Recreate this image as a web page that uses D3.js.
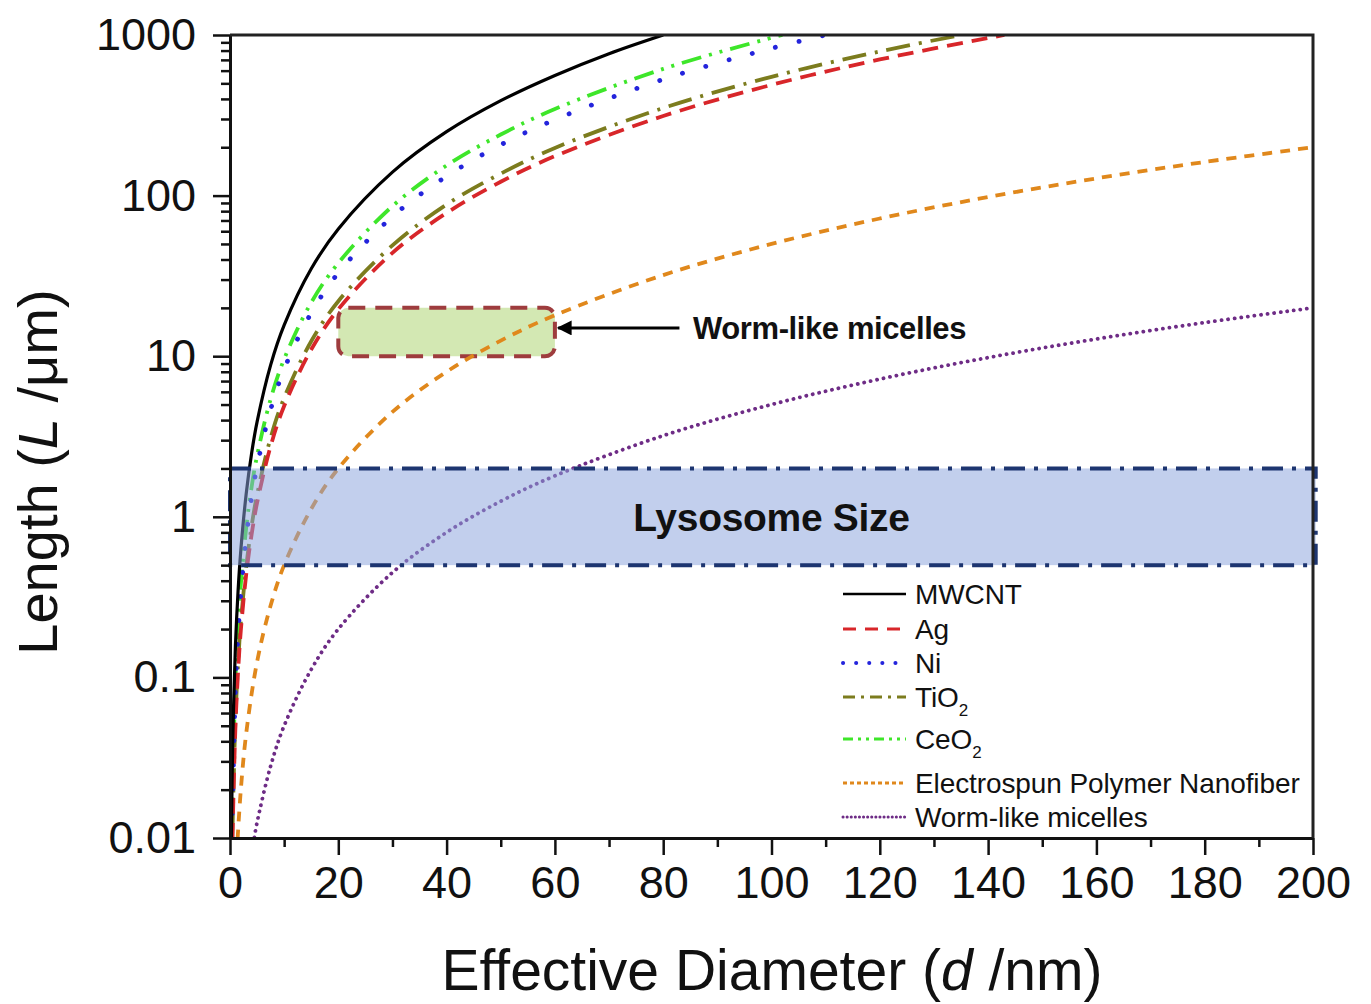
<!DOCTYPE html>
<html>
<head>
<meta charset="utf-8">
<script src="https://cdn.jsdelivr.net/npm/d3@7"></script>
<style>
  body { margin: 0; background: #fff; }
  text { font-family: "Liberation Sans", Arial, sans-serif; fill: #111; }
</style>
</head>
<body>
<div id="chart"></div>
<script>
// values: d in nm, L in um
const mwcntD = [0.25, 0.5, 1, 1.5, 2, 3, 4, 5, 7.5, 10, 15, 20, 30, 40, 50, 60, 70, 80];
const mwcntL = [0.0098, 0.039, 0.156, 0.35, 0.62, 1.4, 2.5, 3.9, 8.8, 15.6, 35, 62, 140, 250, 390, 560, 765, 1000];

const agD = [0.45, 1, 1.5, 2, 3, 4, 5, 7.5, 10, 15, 20, 30, 40, 50, 60, 80, 100, 120, 143];
const agL = [0.0099, 0.049, 0.11, 0.196, 0.44, 0.78, 1.22, 2.75, 4.9, 11, 19.6, 44, 78, 122, 176, 313, 489, 704, 1000];

const niD = [0.35, 1, 1.5, 2, 3, 4, 5, 7.5, 10, 15, 20, 30, 40, 50, 60, 80, 100, 110];
const niL = [0.0101, 0.083, 0.186, 0.33, 0.74, 1.32, 2.07, 4.65, 8.3, 18.6, 33, 74, 132, 207, 297, 529, 826, 1000];

const tio2D = [0.43, 1, 1.5, 2, 3, 4, 5, 7.5, 10, 15, 20, 30, 40, 50, 60, 80, 100, 120, 135];
const tio2L = [0.0101, 0.055, 0.124, 0.22, 0.49, 0.88, 1.37, 3.1, 5.5, 12.4, 22, 49, 88, 137, 198, 351, 549, 790, 1000];

const ceo2D = [0.32, 1, 1.5, 2, 3, 4, 5, 7.5, 10, 15, 20, 30, 40, 50, 60, 80, 100, 102];
const ceo2L = [0.0098, 0.096, 0.216, 0.38, 0.86, 1.54, 2.4, 5.4, 9.6, 21.6, 38, 86, 154, 240, 346, 615, 961, 1000];

const fiberD = [1.4, 2, 3, 5, 7.5, 10, 15, 20, 30, 40, 50, 60, 80, 100, 120, 140, 160, 180, 200];
const fiberL = [0.0098, 0.02, 0.045, 0.125, 0.28, 0.5, 1.12, 2, 4.5, 8, 12.5, 18, 32, 50, 72, 98, 128, 162, 200];

const wormD = [4.5, 5, 7.5, 10, 15, 20, 30, 40, 50, 60, 80, 100, 120, 140, 160, 180, 200];
const wormL = [0.0101, 0.0125, 0.028, 0.05, 0.112, 0.2, 0.45, 0.8, 1.25, 1.8, 3.2, 5, 7.2, 9.8, 12.8, 16.2, 20];

const seriesNames = ["MWCNT", "Ag", "Ni", "TiO2", "CeO2", "Electrospun Polymer Nanofiber", "Worm-like micelles"];

// ticks
const xMajor = [0, 20, 40, 60, 80, 100, 120, 140, 160, 180, 200];
const xMinor = [10, 30, 50, 70, 90, 110, 130, 150, 170, 190];
const yMajor = [0.01, 0.1, 1, 10, 100, 1000];
const yLabels = ["0.01", "0.1", "1", "10", "100", "1000"];

// shaded regions
const lysosomeRange = [0.5, 2];      // L
const lysosomeD = [0, 200.5];
const wormBoxD = [20, 60];
const wormBoxL = [10, 20];

const W = 1371, H = 1004;
const mLeft = 230, mRight = 1313, mTop = 35, mBottom = 838;

const x = d3.scaleLinear().domain([0, 200]).range([mLeft, mRight]);
const y = d3.scaleLog().domain([0.01, 1000]).range([mBottom, mTop]);

const yMinor = [];
[0.01, 0.1, 1, 10, 100].forEach(b => { for (let k = 2; k <= 9; k++) yMinor.push(b * k); });

const svg = d3.select("#chart").append("svg")
  .attr("width", W).attr("height", H);

const defs = svg.append("defs");
defs.append("clipPath").attr("id", "plot")
  .append("rect").attr("x", mLeft).attr("y", mTop)
  .attr("width", mRight - mLeft).attr("height", mBottom - mTop);

defs.append("marker")
  .attr("id", "arrow").attr("viewBox", "0 0 10 10")
  .attr("refX", 9).attr("refY", 5)
  .attr("markerWidth", 5).attr("markerHeight", 5)
  .attr("markerUnits", "strokeWidth")
  .attr("orient", "auto")
  .append("path").attr("d", "M0,0 L10,5 L0,10 z").attr("fill", "#000");

//worm-like micelles box goes under the curves
svg.append("rect")
  .attr("x", x(wormBoxD[0])).attr("y", y(wormBoxL[1]))
  .attr("width", x(wormBoxD[1]) - x(wormBoxD[0]))
  .attr("height", y(wormBoxL[0]) - y(wormBoxL[1]))
  .attr("rx", 10).attr("ry", 10)
  .attr("fill", "#d3e8b3")
  .attr("stroke", "#9e3c3e").attr("stroke-width", 4)
  .attr("stroke-dasharray", "17 10");

const styles = [
  { color: "#000000", width: 3.2, dash: null,                 cap: "butt",  legendDash: null },
  { color: "#d8262a", width: 3.8, dash: "16 9",               cap: "butt",  legendDash: "13 9" },
  { color: "#2424dc", width: 4.8, dash: "0.1 24",             cap: "round", legendDash: "0.1 13" },
  { color: "#7c7c1e", width: 3.8, dash: "24 9 3 9",           cap: "butt",  legendDash: "12 6 3 6" },
  { color: "#3ee62a", width: 3.8, dash: "20 8 3 8 3 8",       cap: "butt",  legendDash: "10 5 3 5 3 5" },
  { color: "#e0881c", width: 3.8, dash: "10 8",               cap: "butt",  legendDash: "4 3" },
  { color: "#6e2c86", width: 3.8, dash: "0.1 6.5",            cap: "round", legendDash: "0.1 4" }
];

const seriesD = [mwcntD, agD, niD, tio2D, ceo2D, fiberD, wormD];
const seriesL = [mwcntL, agL, niL, tio2L, ceo2L, fiberL, wormL];

const line = d3.line()
  .x(p => x(p[0]))
  .y(p => y(p[1]))
  .curve(d3.curveCatmullRom.alpha(0.5));

const curves = svg.append("g").attr("clip-path", "url(#plot)");
// draw back to front so black sits on top like the original
for (let i = seriesD.length - 1; i >= 0; i--) {
  const pts = seriesD[i].map((d, j) => [d, seriesL[i][j]]);
  const s = styles[i];
  curves.append("path")
    .attr("d", line(pts))
    .attr("fill", "none")
    .attr("stroke", s.color)
    .attr("stroke-width", s.width)
    .attr("stroke-linecap", s.cap)
    .attr("stroke-dasharray", s.dash);
}

// lysosome band, see-through over the curves
svg.append("rect")
  .attr("x", x(lysosomeD[0])).attr("y", y(lysosomeRange[1]))
  .attr("width", x(lysosomeD[1]) - x(lysosomeD[0]))
  .attr("height", y(lysosomeRange[0]) - y(lysosomeRange[1]))
  .attr("fill", "#8aa3dc").attr("fill-opacity", 0.52)
  .attr("stroke", "#1d3570").attr("stroke-width", 4)
  .attr("stroke-dasharray", "21 9 4 9");

svg.append("text")
  .attr("x", x(100)).attr("y", y(1)).attr("dy", "0.36em")
  .attr("text-anchor", "middle")
  .attr("font-size", 39).attr("font-weight", "bold")
  .attr("letter-spacing", -0.3)
  .text("Lysosome Size");

// arrow + label for the micelles box
svg.append("line")
  .attr("x1", x(83)).attr("x2", x(60.6))
  .attr("y1", y(15)).attr("y2", y(15))
  .attr("stroke", "#000").attr("stroke-width", 3)
  .attr("marker-end", "url(#arrow)");

svg.append("text")
  .attr("x", x(85.5)).attr("y", y(15)).attr("dy", "0.36em")
  .attr("font-size", 31).attr("font-weight", "bold")
  .attr("letter-spacing", -0.4)
  .text("Worm-like micelles");

//axes
svg.append("g").attr("transform", `translate(0,${mBottom})`)
  .call(d3.axisBottom(x).tickValues(xMajor).tickSize(17).tickSizeOuter(0).tickPadding(11));
svg.append("g").attr("transform", `translate(0,${mBottom})`)
  .call(d3.axisBottom(x).tickValues(xMinor).tickSize(9).tickFormat(""))
  .select(".domain").remove();

svg.append("g").attr("transform", `translate(${mLeft},0)`)
  .call(d3.axisLeft(y).tickValues(yMajor).tickSize(17).tickSizeOuter(0).tickPadding(17)
    .tickFormat((d, i) => yLabels[i]));
svg.append("g").attr("transform", `translate(${mLeft},0)`)
  .call(d3.axisLeft(y).tickValues(yMinor).tickSize(9).tickFormat(""))
  .select(".domain").remove();

svg.selectAll(".tick line").attr("stroke", "#111").attr("stroke-width", 2.5);
svg.selectAll(".domain").attr("stroke", "#111").attr("stroke-width", 3);
svg.selectAll(".tick text").attr("font-size", 45)
  .attr("font-family", "Liberation Sans, Arial, sans-serif").attr("fill", "#111");

// top and right frame
svg.append("path")
  .attr("d", `M${mLeft},${mTop}H${mRight}V${mBottom}`)
  .attr("fill", "none").attr("stroke", "#222").attr("stroke-width", 3);

// axis titles
svg.append("text")
  .attr("x", 772).attr("y", 990)
  .attr("text-anchor", "middle").attr("font-size", 57)
  .call(t => {
    t.append("tspan").text("Effective Diameter (");
    t.append("tspan").attr("font-style", "italic").text("d");
    t.append("tspan").text(" /nm)");
  });

svg.append("text")
  .attr("transform", "translate(57,472) rotate(-90)")
  .attr("text-anchor", "middle").attr("font-size", 56)
  .call(t => {
    t.append("tspan").text("Length (");
    t.append("tspan").attr("font-style", "italic").text("L");
    t.append("tspan").text(" /\u03bcm)");
  });

// legend
const legendY = [594, 629, 663, 697, 739, 783, 817];
const legend = svg.append("g");
seriesNames.forEach((name, i) => {
  const s = styles[i];
  legend.append("line")
    .attr("x1", 843).attr("x2", 906)
    .attr("y1", legendY[i]).attr("y2", legendY[i])
    .attr("stroke", s.color).attr("stroke-width", s.width - 0.8)
    .attr("stroke-linecap", s.cap)
    .attr("stroke-dasharray", s.legendDash);
  const t = legend.append("text")
    .attr("x", 915).attr("y", legendY[i]).attr("dy", "0.36em")
    .attr("font-size", 28).attr("letter-spacing", -0.1);
  if (name.endsWith("2")) {
    t.append("tspan").text(name.slice(0, -1));
    t.append("tspan").attr("font-size", 17).attr("dy", "0.5em").text("2");
  } else {
    t.text(name);
  }
});
</script>
</body>
</html>
